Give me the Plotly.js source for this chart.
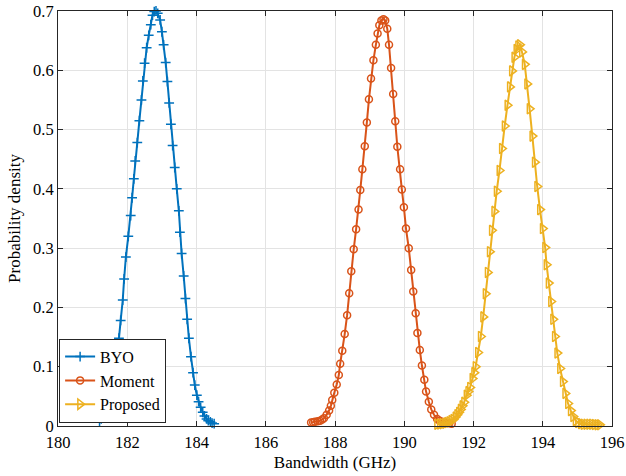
<!DOCTYPE html>
<html>
<head>
<meta charset="utf-8">
<script src="https://cdn.plot.ly/plotly-3.0.1.min.js"></script>
<style>html,body{margin:0;padding:0;background:#fff;}#chart{width:626px;height:476px;}</style>
</head>
<body>
<div id="chart"></div>
<script>
const byoX = [181.20,181.25,181.31,181.36,181.42,181.47,181.53,181.58,181.64,181.69,181.76,181.81,181.87,181.91,181.96,182.03,182.10,182.14,182.19,182.23,182.29,182.35,182.41,182.45,182.50,182.56,182.62,182.68,182.73,182.78,182.83,182.88,182.95,183.00,183.05,183.11,183.16,183.21,183.26,183.31,183.37,183.43,183.49,183.52,183.57,183.63,183.68,183.73,183.78,183.84,183.90,183.95,184.01,184.06,184.12,184.18,184.23,184.29,184.34,184.40,184.45,184.51];
const byoY = [0.008,0.012,0.018,0.026,0.036,0.048,0.063,0.080,0.100,0.120,0.148,0.178,0.2125,0.248,0.285,0.320,0.355,0.385,0.417,0.447,0.478,0.515,0.550,0.582,0.612,0.638,0.659,0.677,0.693,0.699,0.700,0.696,0.685,0.665,0.643,0.613,0.581,0.545,0.509,0.473,0.436,0.400,0.363,0.327,0.291,0.253,0.215,0.180,0.148,0.117,0.090,0.069,0.052,0.041,0.0315,0.023,0.017,0.012,0.009,0.007,0.005,0.004];

const momX = [187.31,187.37,187.42,187.50,187.57,187.63,187.68,187.76,187.83,187.88,187.92,187.98,188.05,188.11,188.15,188.21,188.28,188.35,188.41,188.47,188.54,188.61,188.68,188.73,188.79,188.86,188.92,188.98,189.04,189.11,189.18,189.23,189.28,189.34,189.40,189.45,189.51,189.56,189.62,189.68,189.74,189.80,189.88,189.93,189.99,190.05,190.13,190.20,190.26,190.33,190.38,190.45,190.51,190.58,190.63,190.71,190.78,190.86,190.95,191.02,191.08,191.15,191.22,191.30,191.37];
const momY = [0.006,0.0065,0.007,0.008,0.009,0.011,0.013,0.019,0.026,0.034,0.044,0.056,0.070,0.086,0.105,0.127,0.155,0.187,0.224,0.261,0.298,0.332,0.365,0.398,0.433,0.472,0.512,0.551,0.586,0.617,0.643,0.662,0.676,0.684,0.686,0.684,0.670,0.643,0.604,0.560,0.514,0.471,0.433,0.399,0.369,0.333,0.300,0.263,0.227,0.190,0.157,0.128,0.102,0.078,0.058,0.041,0.028,0.019,0.012,0.009,0.007,0.006,0.005,0.0045,0.004];

const proX = [190.95,191.03,191.10,191.18,191.24,191.30,191.36,191.42,191.48,191.53,191.58,191.63,191.68,191.73,191.80,191.85,191.90,191.97,192.02,192.06,192.13,192.21,192.28,192.35,192.41,192.47,192.53,192.60,192.67,192.75,192.82,192.90,192.98,193.05,193.11,193.18,193.24,193.29,193.34,193.40,193.48,193.55,193.62,193.70,193.77,193.84,193.92,194.00,194.07,194.11,194.17,194.24,194.30,194.35,194.42,194.50,194.58,194.65,194.73,194.81,194.88,194.95,195.02,195.10,195.18,195.26,195.34,195.42,195.50,195.58,195.65];
const proY = [0.003,0.0035,0.004,0.0045,0.006,0.007,0.009,0.011,0.015,0.019,0.023,0.028,0.034,0.040,0.052,0.058,0.065,0.080,0.090,0.100,0.124,0.151,0.184,0.223,0.259,0.294,0.330,0.362,0.396,0.431,0.468,0.506,0.541,0.572,0.599,0.622,0.635,0.641,0.643,0.631,0.610,0.577,0.535,0.489,0.445,0.404,0.365,0.333,0.301,0.272,0.241,0.210,0.180,0.151,0.123,0.097,0.075,0.055,0.038,0.026,0.016,0.009,0.006,0.004,0.003,0.003,0.003,0.003,0.0025,0.002,0.002];

const seriesNames = ['BYO','Moment','Proposed'];
const xTicks = [180,182,184,186,188,190,192,194,196];
const yTicks = [0,0.1,0.2,0.3,0.4,0.5,0.6,0.7];
const yTickText = ['0','0.1','0.2','0.3','0.4','0.5','0.6','0.7'];

const colors = ['#0072BD','#D95319','#EDB120'];
const FONT = 'Liberation Serif, Times New Roman, serif';

const traces = [
  {x: byoX, y: byoY, name: seriesNames[0], mode:'lines+markers', cliponaxis:false,
   line:{color:colors[0], width:2},
   marker:{symbol:'cross-thin', size:7, color:colors[0], line:{color:colors[0], width:1.5}}},
  {x: momX, y: momY, name: seriesNames[1], mode:'lines+markers', cliponaxis:false,
   line:{color:colors[1], width:2},
   marker:{symbol:'circle-open', size:7, color:colors[1], line:{color:colors[1], width:1.5}}},
  {x: proX, y: proY, name: seriesNames[2], mode:'lines+markers', cliponaxis:false,
   line:{color:colors[2], width:2},
   marker:{symbol:'triangle-right-open', size:9, color:colors[2], line:{color:colors[2], width:1.5}}}
];

const axisCommon = {
  showline:true, linecolor:'#262626', linewidth:1, mirror:'ticks',
  ticks:'inside', ticklen:5, tickcolor:'#262626', tickwidth:1,
  showgrid:true, gridcolor:'#e3e3e3', gridwidth:1, zeroline:false,
  tickfont:{family:FONT, size:16.5, color:'#000'}
};

const layout = {
  width:626, height:476,
  margin:{l:58, r:14, t:11, b:50},
  paper_bgcolor:'#fff', plot_bgcolor:'#fff',
  font:{family:FONT, color:'#000'},
  showlegend:true,
  legend:{x:0.002, y:0.008, xanchor:'left', yanchor:'bottom',
    bgcolor:'#fff', bordercolor:'#262626', borderwidth:1,
    font:{family:FONT, size:16, color:'#000'}, tracegroupgap:0},
  xaxis: Object.assign({}, axisCommon, {
    range:[180,196], tickvals:xTicks, ticktext:xTicks.map(String),
    ticklabelstandoff:1,
    title:{text:'Bandwidth (GHz)', font:{family:FONT, size:17, color:'#000'}, standoff:5}
  }),
  yaxis: Object.assign({}, axisCommon, {
    range:[0,0.7], tickvals:yTicks, ticktext:yTickText,
    title:{text:'Probability density', font:{family:FONT, size:17, color:'#000'}, standoff:8}
  })
};

Plotly.newPlot('chart', traces, layout, {displayModeBar:false, staticPlot:true});
</script>
</body>
</html>
